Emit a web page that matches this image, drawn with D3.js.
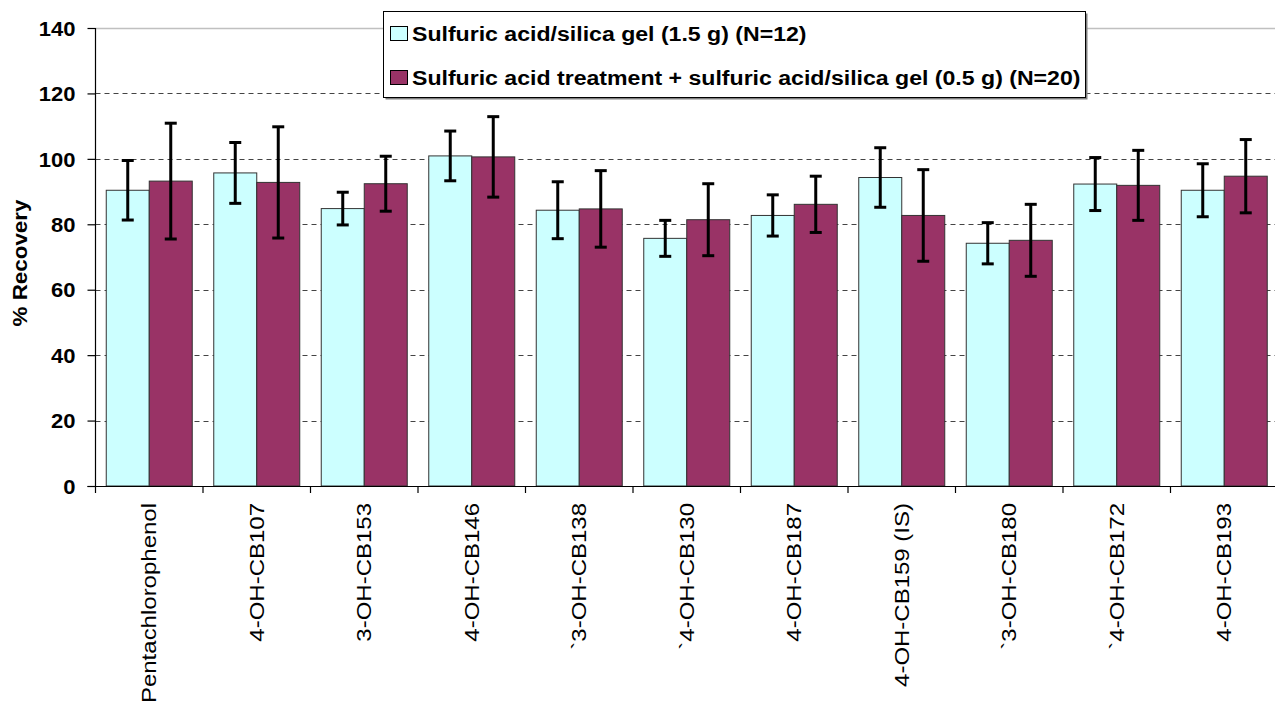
<!DOCTYPE html>
<html>
<head>
<meta charset="utf-8">
<script src="https://cdn.jsdelivr.net/npm/d3@7"></script>
<style>
  html, body { margin: 0; padding: 0; background: #fff; }
  svg { display: block; font-family: "Liberation Sans", Arial, sans-serif; }
</style>
</head>
<body>
<svg id="chart" width="1275" height="711"></svg>
<script>
const categories = ["Pentachlorophenol", "4-OH-CB107", "3-OH-CB153", "4-OH-CB146", "`3-OH-CB138",
  "`4-OH-CB130", "4-OH-CB187", "4-OH-CB159 (IS)", "`3-OH-CB180", "`4-OH-CB172", "4-OH-CB193"];
const seriesNames = ["Sulfuric acid/silica gel (1.5 g) (N=12)",
  "Sulfuric acid treatment + sulfuric acid/silica gel (0.5 g) (N=20)"];
const series1 = [90.4, 95.7, 84.8, 100.9, 84.3, 75.7, 82.7, 94.3, 74.2, 92.3, 90.4];
const err1    = [9.1, 9.3, 5.0, 7.6, 8.7, 5.5, 6.3, 9.1, 6.3, 8.1, 8.1];
const series2 = [93.2, 92.8, 92.4, 100.6, 84.7, 81.4, 86.1, 82.7, 75.1, 91.9, 94.7];
const err2    = [17.7, 17.0, 8.4, 12.3, 11.7, 11.0, 8.6, 14.0, 11.0, 10.7, 11.2];
const yTicks  = [0, 20, 40, 60, 80, 100, 120, 140];
const yTitle  = "% Recovery";
const colors  = ["#CCFFFF", "#993366"];

(function () {
const svg = d3.select("#chart");
const pLeft = 95.5, pRight = 1278, pTop = 28, pBottom = 486;

const x = d3.scaleBand().domain(categories).range([pLeft, pRight]).paddingInner(0.2).paddingOuter(0.1);
const x1 = d3.scaleBand().domain([0, 1]).range([0, x.bandwidth()]);
const y = d3.scaleLinear().domain([0, 140]).range([pBottom, pTop]);

// gridlines
svg.append("g").selectAll("line").data(yTicks.filter(t => t > 0 && t < 140)).join("line")
  .attr("x1", pLeft).attr("x2", 1275)
  .attr("y1", d => Math.round(y(d)) + 0.5).attr("y2", d => Math.round(y(d)) + 0.5)
  .attr("stroke", "#444").attr("stroke-width", 1).attr("stroke-dasharray", "5,4");
// top border
svg.append("line").attr("x1", pLeft).attr("x2", 1275)
  .attr("y1", Math.round(y(140)) + 0.5).attr("y2", Math.round(y(140)) + 0.5)
  .attr("stroke", "#c0c0c0").attr("stroke-width", 1.5);

const data = categories.map((c, i) => ({c, vals: [
  {s: 0, v: series1[i], e: err1[i]}, {s: 1, v: series2[i], e: err2[i]}]}));

const groups = svg.append("g").selectAll("g").data(data).join("g")
  .attr("transform", d => `translate(${x(d.c)},0)`);

groups.selectAll("rect").data(d => d.vals).join("rect")
  .attr("x", d => x1(d.s)).attr("width", x1.bandwidth())
  .attr("y", d => y(d.v)).attr("height", d => y(0) - y(d.v))
  .attr("fill", d => colors[d.s]).attr("stroke", "#333").attr("stroke-width", 1);

// error bars
const eb = groups.selectAll("g.err").data(d => d.vals).join("g").attr("class", "err");
eb.append("line")
  .attr("x1", d => x1(d.s) + x1.bandwidth() / 2).attr("x2", d => x1(d.s) + x1.bandwidth() / 2)
  .attr("y1", d => y(d.v + d.e)).attr("y2", d => y(d.v - d.e))
  .attr("stroke", "#000").attr("stroke-width", 3);
eb.selectAll("line.cap").data(d => [{d, t: d.v + d.e}, {d, t: d.v - d.e}]).join("line")
  .attr("class", "cap")
  .attr("x1", k => x1(k.d.s) + x1.bandwidth() / 2 - 6).attr("x2", k => x1(k.d.s) + x1.bandwidth() / 2 + 6)
  .attr("y1", k => y(k.t)).attr("y2", k => y(k.t))
  .attr("stroke", "#000").attr("stroke-width", 3);

// axes
svg.append("line").attr("x1", pLeft).attr("x2", pLeft).attr("y1", pTop).attr("y2", pBottom + 0.5)
  .attr("stroke", "#000").attr("stroke-width", 1.2);
svg.append("line").attr("x1", pLeft - 8).attr("x2", 1275).attr("y1", pBottom + 0.5).attr("y2", pBottom + 0.5)
  .attr("stroke", "#000").attr("stroke-width", 1.2);

const yAxis = svg.append("g").attr("transform", `translate(${pLeft},0)`)
  .call(d3.axisLeft(y).tickValues(yTicks).tickSize(8).tickFormat(d3.format("d")));
yAxis.select(".domain").remove();
yAxis.selectAll(".tick line").attr("stroke", "#000").attr("stroke-width", 1.2);
yAxis.selectAll(".tick text")
  .attr("x", 0).attr("dy", "0.36em")
  .attr("transform", "translate(-20,0) scale(1.1,1)")
  .attr("text-anchor", "end")
  .style("font-family", '"Liberation Sans", Arial, sans-serif')
  .style("font-size", "20px").style("font-weight", "bold").attr("fill", "#000");

// category boundary ticks
const off = (x.step() - x.bandwidth()) / 2;
svg.append("g").selectAll("line").data(categories).join("line")
  .attr("x1", d => x(d) - off).attr("x2", d => x(d) - off)
  .attr("y1", pBottom).attr("y2", pBottom + 7)
  .attr("stroke", "#000").attr("stroke-width", 1.2);

// category labels
svg.append("g").selectAll("text").data(categories).join("text")
  .attr("transform", d => `translate(${x(d) + x.bandwidth() / 2},503) rotate(-90) scale(1.2,1)`)
  .attr("text-anchor", "end").attr("dy", "0.36em")
  .style("font-size", "20px").attr("fill", "#000")
  .text(d => d);

// y title
svg.append("text")
  .attr("transform", "translate(27,263) rotate(-90) scale(1.12,1)")
  .attr("text-anchor", "middle")
  .style("font-size", "20px").style("font-weight", "bold")
  .text(yTitle);

// legend
const lg = svg.append("g");
lg.append("rect").attr("x", 385.5).attr("y", 13.5).attr("width", 702).attr("height", 86).attr("fill", "#808080");
lg.append("rect").attr("x", 383.5).attr("y", 11.5).attr("width", 702).attr("height", 86)
  .attr("fill", "#fff").attr("stroke", "#000").attr("stroke-width", 1);
const rows = lg.selectAll("g.row").data(seriesNames).join("g").attr("class", "row")
  .attr("transform", (d, i) => `translate(0,${i * 44})`);
rows.append("rect").attr("x", 390.5).attr("y", 26.5).attr("width", 17).attr("height", 14)
  .attr("fill", (d, i) => colors[i]).attr("stroke", "#000").attr("stroke-width", 1);
rows.append("text")
  .attr("transform", "translate(412,41) scale(1.1,1)")
  .style("font-size", "21px").style("font-weight", "bold")
  .text(d => d);
})();
</script>
</body>
</html>
